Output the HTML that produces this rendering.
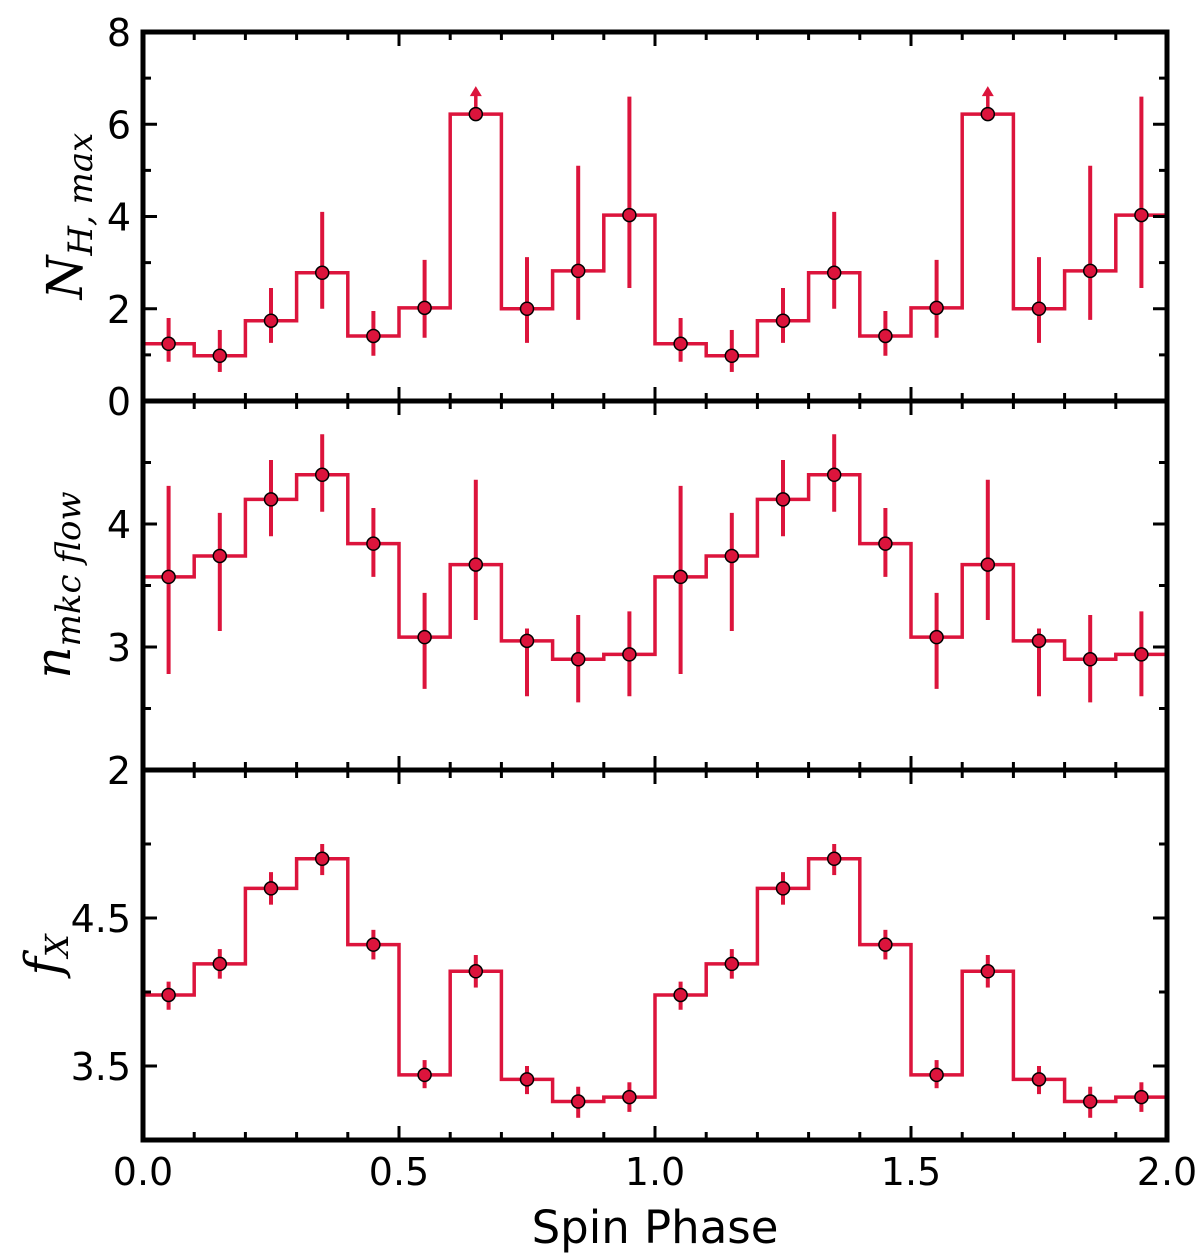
<!DOCTYPE html>
<html><head><meta charset="utf-8"><style>
body{margin:0;background:#fff}
svg{display:block}
text{font-family:"DejaVu Sans","Liberation Sans",sans-serif;fill:#000}
.ml{font-family:"DejaVu Serif","Liberation Serif",serif;font-style:italic}
</style></head><body>
<svg id="c" width="1200" height="1253" viewBox="0 0 1200 1253"></svg>
<script>
const phases=[0.05,0.15,0.25,0.35,0.45,0.55,0.65,0.75,0.85,0.95];
const nhVals=[1.24,0.98,1.74,2.78,1.41,2.02,6.22,2.0,2.82,4.03];
const nhLo=[0.85,0.63,1.26,2.0,0.98,1.37,6.22,1.26,1.76,2.45];
const nhHi=[1.8,1.54,2.45,4.1,1.95,3.06,6.22,3.12,5.1,6.6];
const nhLimit=[0,0,0,0,0,0,1,0,0,0];
const nVals=[3.57,3.74,4.2,4.4,3.84,3.08,3.67,3.05,2.9,2.94];
const nLo=[2.78,3.13,3.9,4.1,3.57,2.66,3.22,2.6,2.55,2.6];
const nHi=[4.31,4.09,4.52,4.73,4.13,3.44,4.36,3.15,3.26,3.29];
const fVals=[3.98,4.19,4.7,4.9,4.32,3.44,4.14,3.41,3.26,3.29];
const fLo=[3.88,4.09,4.59,4.79,4.22,3.35,4.03,3.31,3.15,3.19];
const fHi=[4.07,4.29,4.81,5.0,4.42,3.54,4.25,3.5,3.36,3.39];
const xTicks=[0,0.5,1,1.5,2];
const xTickLabels=["0.0","0.5","1.0","1.5","2.0"];

const svg=document.getElementById('c');
const NS='http://www.w3.org/2000/svg';
function mk(t,a,p){const e=document.createElementNS(NS,t);for(const k in a)e.setAttribute(k,a[k]);(p||svg).appendChild(e);return e;}
const X0=143,X1=1167;
const xs=v=>X0+(v/2)*(X1-X0);
const RED='#dc143c';
const panels=[
 {name:'nh',top:32,bot:401,min:0,max:8,vals:nhVals,lo:nhLo,hi:nhHi,lim:nhLimit,major:[0,2,4,6,8],labels:["0","2","4","6","8"],minor:[1,3,5,7]},
 {name:'n-mkcflow',top:401,bot:770,min:2,max:5,vals:nVals,lo:nLo,hi:nHi,major:[2,3,4],labels:["2","3","4"],minor:[2.5,3.5,4.5]},
 {name:'fx',top:770,bot:1140,min:3,max:5.5,vals:fVals,lo:fLo,hi:fHi,major:[3.5,4.5],labels:["3.5","4.5"],minor:[4,5]}
];
panels.forEach((p,pi)=>{
 const g=mk('g',{});
 
 
 const ys=v=>p.bot-(v-p.min)/(p.max-p.min)*(p.bot-p.top);
 const px=[],pv=[],pl=[],ph=[],plim=[];
 for(let c=0;c<2;c++)phases.forEach((ph0,i)=>{px.push(ph0+c);pv.push(p.vals[i]);pl.push(p.lo[i]);ph.push(p.hi[i]);plim.push(p.lim?p.lim[i]:0);});
 let d='';
 px.forEach((x,i)=>{const y=ys(pv[i]);d+=(i?'L':'M')+xs(x-0.05)+','+y+'L'+xs(x+0.05)+','+y;});
 const step=mk('path',{d:d,fill:'none',stroke:RED,'stroke-width':3.5,'stroke-linejoin':'miter'},g);
 
 
 px.forEach((x,i)=>{
  if(plim[i]){
   const y=ys(pv[i]);
   const a=mk('line',{x1:xs(x),x2:xs(x),y1:y,y2:y-20,stroke:RED,'stroke-width':3.5},g);
   
   
   const h=mk('path',{d:`M${xs(x)-6},${y-18}L${xs(x)+6},${y-18}L${xs(x)},${y-28}Z`,fill:RED},g);
   
   
  }else{
   const e=mk('line',{x1:xs(x),x2:xs(x),y1:ys(pl[i]),y2:ys(ph[i]),stroke:RED,'stroke-width':4},g);
   
   
  }
 });
 px.forEach((x,i)=>{
  const c=mk('circle',{cx:xs(x),cy:ys(pv[i]),r:6.5,fill:RED,stroke:'#000','stroke-width':1.5},g);
  
  
 });
 p.major.forEach((v,i)=>{
  const y=ys(v);
  mk('line',{x1:X0,x2:X0+14,y1:y,y2:y,stroke:'#000','stroke-width':3},g);
  mk('line',{x1:X1-14,x2:X1,y1:y,y2:y,stroke:'#000','stroke-width':3},g);
  const t=mk('text',{x:X0-12,y:y+14,'text-anchor':'end','font-size':38},g);
  t.textContent=p.labels[i];
  
  
 });
 p.minor.forEach(v=>{const y=ys(v);
  mk('line',{x1:X0,x2:X0+8,y1:y,y2:y,stroke:'#000','stroke-width':3},g);
  mk('line',{x1:X1-8,x2:X1,y1:y,y2:y,stroke:'#000','stroke-width':3},g);});
 for(let k=1;k<20;k++){const x=xs(k*0.1);const L=(k%5==0)?14:8;
  mk('line',{x1:x,x2:x,y1:p.bot,y2:p.bot-L,stroke:'#000','stroke-width':3},g);
  mk('line',{x1:x,x2:x,y1:p.top,y2:p.top+L,stroke:'#000','stroke-width':3},g);}
 const fr=mk('rect',{x:X0,y:p.top,width:X1-X0,height:p.bot-p.top,fill:'none',stroke:'#000','stroke-width':5},g);
 
 
});
function ytitle(cx,cy,html,name){
 const t=mk('text',{transform:`translate(${cx},${cy}) rotate(-90)`,'text-anchor':'middle','font-size':50,class:'ml'});
 t.innerHTML=html;
 
 
}
ytitle(82,216,'N<tspan font-size="34" dy="10">H, max</tspan>','nh-y-title');
ytitle(70,585,'n<tspan font-size="34" dy="10">mkc flow</tspan>','n-mkcflow-y-title');
ytitle(60,955,'f<tspan font-size="32" dy="8">X</tspan>','fx-y-title');
xTicks.forEach((v,i)=>{
 const t=mk('text',{x:xs(v),y:1185,'text-anchor':'middle','font-size':38});
 t.textContent=xTickLabels[i];
 
 
});
const xt=mk('text',{x:655,y:1243,'text-anchor':'middle','font-size':45});
xt.textContent='Spin Phase';


</script>
</body></html>
